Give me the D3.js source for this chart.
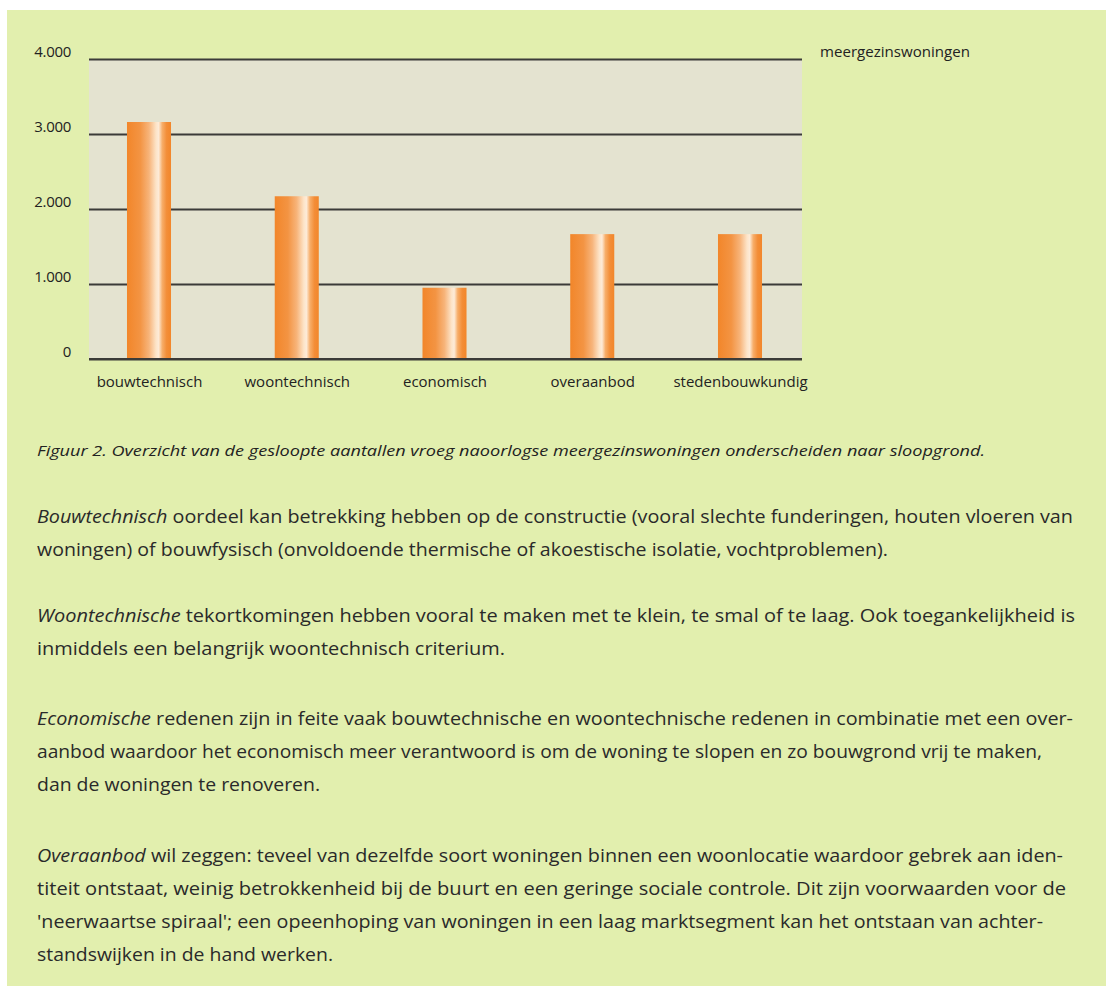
<!DOCTYPE html>
<html>
<head>
<meta charset="utf-8">
<script src="https://cdn.jsdelivr.net/npm/d3@7"></script>
<style>
  html, body { margin: 0; padding: 0; background: #ffffff; }
  svg { display: block; }
</style>
</head>
<body>
<svg id="chart" width="1106" height="986"></svg>
<script>
const categories = ["bouwtechnisch", "woontechnisch", "economisch", "overaanbod", "stedenbouwkundig"];
const values = [3160, 2170, 950, 1665, 1665];
const yTicks = [0, 1000, 2000, 3000, 4000];
const tickLabels = ["0", "1.000", "2.000", "3.000", "4.000"];
const unitLabel = "meergezinswoningen";
const caption = "Figuur 2. Overzicht van de gesloopte aantallen vroeg naoorlogse meergezinswoningen onderscheiden naar sloopgrond.";
// body lines: [italic part, rest, right end x, baseline]
const bodyLines = [
  ["Bouwtechnisch", " oordeel kan betrekking hebben op de constructie (vooral slechte funderingen, houten vloeren van", 1073, 523],
  ["", "woningen) of bouwfysisch (onvoldoende thermische of akoestische isolatie, vochtproblemen).", 888, 556],
  ["Woontechnische", " tekortkomingen hebben vooral te maken met te klein, te smal of te laag. Ook toegankelijkheid is", 1075, 622],
  ["", "inmiddels een belangrijk woontechnisch criterium.", 505, 655],
  ["Economische", " redenen zijn in feite vaak bouwtechnische en woontechnische redenen in combinatie met een over-", 1073, 725],
  ["", "aanbod waardoor het economisch meer verantwoord is om de woning te slopen en zo bouwgrond vrij te maken,", 1042, 758],
  ["", "dan de woningen te renoveren.", 320, 791],
  ["Overaanbod", " wil zeggen: teveel van dezelfde soort woningen binnen een woonlocatie waardoor gebrek aan iden-", 1063, 862],
  ["", "titeit ontstaat, weinig betrokkenheid bij de buurt en een geringe sociale controle. Dit zijn voorwaarden voor de", 1066, 895],
  ["", "'neerwaartse spiraal'; een opeenhoping van woningen in een laag marktsegment kan het ontstaan van achter-", 1043, 928],
  ["", "standswijken in de hand werken.", 333, 961]
];

const svg = d3.select("#chart");
const font = "'Open Sans', 'Noto Sans', sans-serif";

// page panel
svg.append("rect").attr("x", 7).attr("y", 10).attr("width", 1099).attr("height", 976).attr("fill", "#e2efae");

const plot = { left: 89, right: 802, top: 59, bottom: 359 };

// gradient for bars
const defs = svg.append("defs");
const grad = defs.append("linearGradient").attr("id", "barGrad").attr("x1", "0%").attr("x2", "100%").attr("y1", "0%").attr("y2", "0%");
[[0, "#f2862a"], [0.3, "#f39443"], [0.5, "#f7b47a"], [0.66, "#fde4c8"], [0.72, "#fdebd8"], [0.8, "#f7ae6a"], [0.9, "#f38e38"], [1, "#f2862a"]]
  .forEach(([o, c]) => grad.append("stop").attr("offset", o).attr("stop-color", c));

// plot background
svg.append("rect").attr("x", plot.left).attr("y", plot.top)
  .attr("width", plot.right - plot.left).attr("height", plot.bottom - plot.top)
  .attr("fill", "#e4e3d0");

const y = d3.scaleLinear().domain([0, 4000]).range([plot.bottom, plot.top]);
const x = d3.scalePoint().domain(categories).range([149, 740]);
const barW = x.step() * 0.298;

// y axis with gridlines
const yAxis = d3.axisLeft(y).tickValues(yTicks)
  .tickFormat((d, i) => tickLabels[i])
  .tickSize(-(plot.right - plot.left)).tickPadding(18);
const gy = svg.append("g").attr("transform", `translate(${plot.left},0)`).call(yAxis);
gy.select(".domain").remove();
gy.selectAll(".tick line").attr("stroke", "#3b3b38").attr("stroke-width", 2);
gy.selectAll(".tick text").attr("font-family", font).attr("font-size", 15)
  .attr("fill", "#222").attr("dy", "0.32em").attr("y", -7).attr("letter-spacing", -0.3);

// bars
svg.append("g").selectAll("rect").data(values).join("rect")
  .attr("x", (d, i) => x(categories[i]) - barW / 2)
  .attr("y", d => y(d))
  .attr("width", barW)
  .attr("height", d => y(0) - y(d))
  .attr("fill", "url(#barGrad)");

// redraw baseline on top
svg.append("line").attr("x1", plot.left).attr("x2", plot.right).attr("y1", y(0)).attr("y2", y(0))
  .attr("stroke", "#3b3b38").attr("stroke-width", 2);

// x axis labels
const xAxis = d3.axisBottom(x).tickSize(0).tickPadding(17);
const gx = svg.append("g").attr("transform", `translate(0,${plot.bottom})`).call(xAxis);
gx.select(".domain").remove();
gx.selectAll(".tick text").attr("font-family", font).attr("font-size", 15).attr("fill", "#222");

// unit label
svg.append("text").attr("x", 820).attr("y", 57).attr("font-family", font).attr("font-size", 15)
  .attr("fill", "#222").attr("textLength", 150).attr("lengthAdjust", "spacingAndGlyphs").text(unitLabel);

// caption
svg.append("text").attr("x", 37).attr("y", 456).attr("font-family", font).attr("font-size", 14.5)
  .attr("font-style", "italic").attr("fill", "#222")
  .attr("textLength", 985 - 37).attr("lengthAdjust", "spacingAndGlyphs").text(caption);

// body text
bodyLines.forEach(([it, rest, endX, by]) => {
  const t = svg.append("text").attr("x", 37).attr("y", by).attr("font-family", font).attr("font-size", 18.5)
    .attr("fill", "#2a2a2a");
  if (endX) t.attr("textLength", endX - 37).attr("lengthAdjust", "spacingAndGlyphs");
  if (it) t.append("tspan").attr("font-style", "italic").text(it);
  t.append("tspan").text(rest);
});
</script>
</body>
</html>
